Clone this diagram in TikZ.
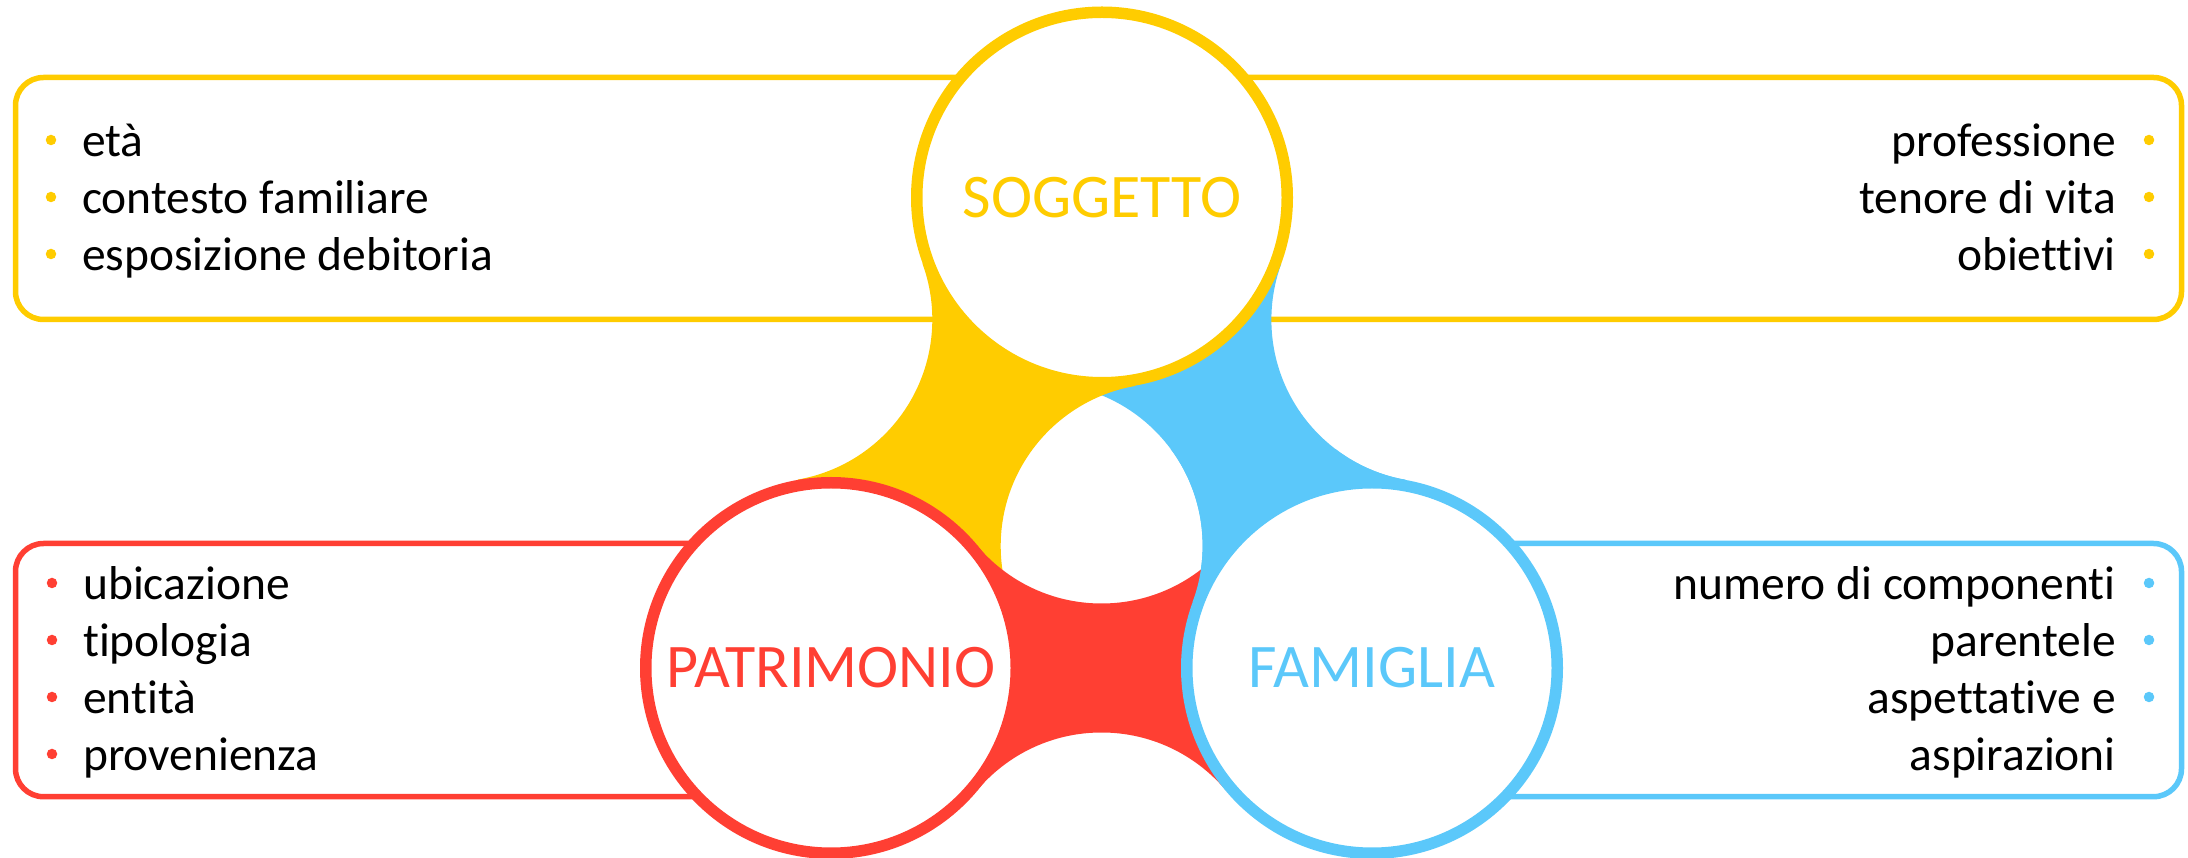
\documentclass[tikz,border=0pt]{standalone}
\usepackage{fontspec}
\setmainfont{Carlito}[Ligatures=NoCommon]
\usetikzlibrary{calc}
\definecolor{cyel}{HTML}{FFCC00}
\definecolor{cred}{HTML}{FF3F33}
\definecolor{cblue}{HTML}{5BC8FA}
\tikzset{
  hubcircle/.style={circle, fill=white, line width=11.5pt, minimum size=370.5pt, inner sep=0pt, font=\fontsize{62pt}{74pt}\selectfont},
  listbox/.style={rounded corners=28pt, line width=5.5pt},
  listitem/.style={inner sep=0pt, font=\fontsize{47.5pt}{57pt}\selectfont, text=black},
  bulletdot/.style={circle, inner sep=0pt, minimum size=10.5pt},
}
\newcommand\drawneck[3]{%
  \path ($(#1)!0.5!(#2)$) coordinate (nm);
  \path ($(nm)!227pt!90:(#2)$) coordinate (nc1);
  \path ($(nm)!227pt!-90:(#2)$) coordinate (nc2);
  \path ($(#1)!191pt!(nc1)$) coordinate (na1)
        ($(#2)!191pt!(nc1)$) coordinate (nb1)
        ($(#2)!191pt!(nc2)$) coordinate (nb2)
        ($(#1)!191pt!(nc2)$) coordinate (na2);
  \begin{scope}
    \clip (na1) -- (nb1) -- (nb2) -- (na2) -- cycle;
    \fill[#3, even odd rule] (-100,-100) rectangle (2300,1000)
      (nc1) circle[radius=162.5] (nc2) circle[radius=162.5];
  \end{scope}
}
\begin{document}
\begin{tikzpicture}[x=1pt,y=1pt]
\useasboundingbox (0,0) rectangle (2188,857);
\fill[white] (0,0) rectangle (2188,857);
\coordinate (cS) at (1102,659.5);
\coordinate (cP) at (831,189);
\coordinate (cF) at (1372,189);
% list boxes
\draw[listbox, draw=cyel] (15.5,537.5) rectangle (2181.5,779.5);
\draw[listbox, draw=cred] (15.5,60.3) rectangle (831,313.5);
\draw[listbox, draw=cblue] (1372,60.3) rectangle (2181.5,313.5);
% necks
\drawneck{cS}{cF}{cblue}
\drawneck{cS}{cP}{cyel}
\drawneck{cP}{cF}{cred}
\begin{scope}
  \clip (1150,0) rectangle (1600,407);
  \drawneck{cS}{cF}{cblue}
\end{scope}
% circles
\node[hubcircle, draw=cyel, text=cyel] (S) at (cS) {SOGGETTO};
\node[hubcircle, draw=cred, text=cred] (P) at (cP) {PATRIMONIO};
\node[hubcircle, draw=cblue, text=cblue] (F) at (cF) {FAMIGLIA};
% top-left list
\node[listitem, anchor=base west] (tl1) at (82,700) {età};
\node[listitem, anchor=base west] (tl2) at (82,643) {contesto familiare};
\node[listitem, anchor=base west] (tl3) at (82,586) {esposizione debitoria};
\node[bulletdot, fill=cyel] (btl1) at (51,717) {};
\node[bulletdot, fill=cyel] (btl2) at (51,660) {};
\node[bulletdot, fill=cyel] (btl3) at (51,603) {};
% top-right list
\node[listitem, anchor=base east] (tr1) at (2116,700) {professione};
\node[listitem, anchor=base east] (tr2) at (2116,643) {tenore di vita};
\node[listitem, anchor=base east] (tr3) at (2116,586) {obiettivi};
\node[bulletdot, fill=cyel] (btr1) at (2149,717) {};
\node[bulletdot, fill=cyel] (btr2) at (2149,660) {};
\node[bulletdot, fill=cyel] (btr3) at (2149,603) {};
% bottom-left list
\node[listitem, anchor=base west] (bl1) at (83,257) {ubicazione};
\node[listitem, anchor=base west] (bl2) at (83,200) {tipologia};
\node[listitem, anchor=base west] (bl3) at (83,143) {entità};
\node[listitem, anchor=base west] (bl4) at (83,86) {provenienza};
\node[bulletdot, fill=cred] (bbl1) at (52,274) {};
\node[bulletdot, fill=cred] (bbl2) at (52,217) {};
\node[bulletdot, fill=cred] (bbl3) at (52,160) {};
\node[bulletdot, fill=cred] (bbl4) at (52,103) {};
% bottom-right list
\node[listitem, anchor=base east] (br1) at (2116,257) {numero di componenti};
\node[listitem, anchor=base east] (br2) at (2116,200) {parentele};
\node[listitem, anchor=base east] (br3) at (2116,143) {aspettative e};
\node[listitem, anchor=base east] (br4) at (2116,86) {aspirazioni};
\node[bulletdot, fill=cblue] (bbr1) at (2149,274) {};
\node[bulletdot, fill=cblue] (bbr2) at (2149,217) {};
\node[bulletdot, fill=cblue] (bbr3) at (2149,160) {};
\end{tikzpicture}
\end{document}
